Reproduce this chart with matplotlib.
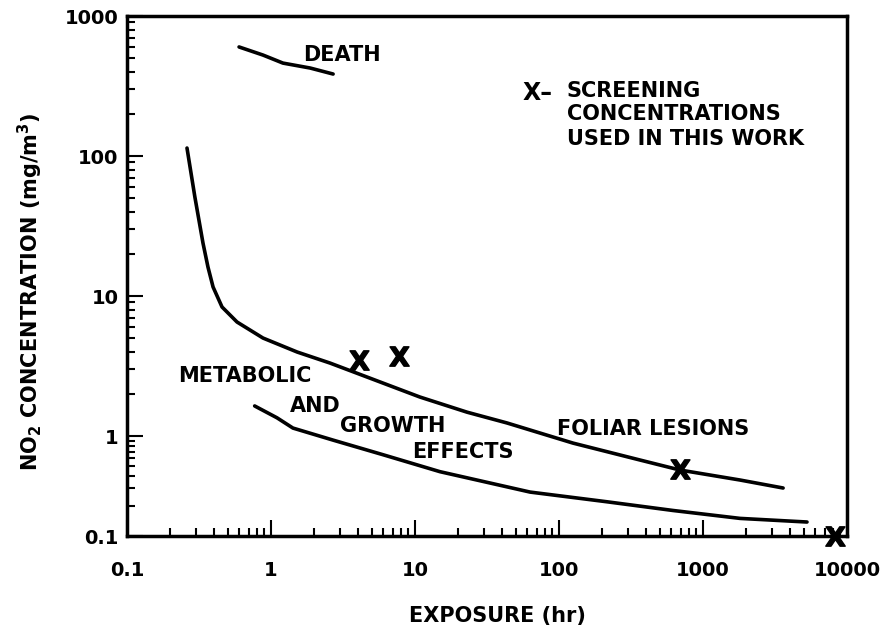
import numpy as np
import matplotlib
matplotlib.use("Agg")
import matplotlib.pyplot as plt
from matplotlib.ticker import FixedLocator, FixedFormatter, NullFormatter, FuncFormatter

# exposure (hr) / NO2 concentration (mg/m3)
death_x = [0.6, 0.88, 1.21, 1.87, 2.7]
death_y = [601, 526, 461, 425, 385]

foliar_x = [0.261, 0.296, 0.337, 0.365, 0.396, 0.457, 0.581, 0.88, 1.52, 2.57, 4.87, 10.8,
            23.0, 43.5, 125, 366, 692, 1808, 3600]
foliar_y = [114, 51, 23.9, 16.1, 11.6, 8.35, 6.52, 5.01, 3.98, 3.32, 2.59, 1.9,
            1.48, 1.24, 0.85, 0.575, 0.457, 0.363, 0.302]

growth_x = [0.77, 1.1, 1.42, 2.7, 6.0, 14.9, 63, 215, 619, 1808, 5275]
growth_y = [1.64, 1.35, 1.14, 0.91, 0.65, 0.44, 0.275, 0.22, 0.18, 0.15, 0.138]

screen_x = [4.1, 7.8, 690, 8300]
screen_y = [3.5, 3.7, 0.47, 0.1]

y_ticks = [0.1, 1, 10, 100, 1000]
y_labels = ["0.1", "1", "10", "100", "1000"]

# the bottom decade of the printed axis is squeezed
LOW_DECADE = 0.714


def fwd(y):
    ly = np.log10(np.clip(y, 1e-12, None))
    return np.where(ly < 0, ly * LOW_DECADE, ly)


def inv(v):
    v = np.asarray(v, dtype=float)
    return np.where(v < 0, 10 ** (v / LOW_DECADE), 10 ** v)


plt.rcParams["font.family"] = ["DejaVu Sans"]
plt.rcParams["font.weight"] = "bold"
plt.rcParams["mathtext.default"] = "bf"

fig = plt.figure(figsize=(8.85, 6.28), dpi=100)
ax = fig.add_axes([127 / 885, 1 - 536 / 628, 720 / 885, 520 / 628])

ax.set_xscale("log")
ax.set_yscale("function", functions=(fwd, inv))
ax.set_xlim(0.1, 10000)
ax.set_ylim(0.1, 1000)

lw = 2.6
ax.plot(death_x, death_y, color="black", lw=lw, solid_capstyle="round")
ax.plot(foliar_x, foliar_y, color="black", lw=lw, solid_capstyle="round")
ax.plot(growth_x, growth_y, color="black", lw=lw, solid_capstyle="round")
ax.plot(screen_x, screen_y, linestyle="none", marker="$X$", markersize=14,
        color="black", clip_on=False, zorder=5)

ax.xaxis.set_major_formatter(FuncFormatter(lambda v, p: f"{v:g}"))
ax.xaxis.set_minor_formatter(NullFormatter())
ax.yaxis.set_major_locator(FixedLocator(y_ticks))
ax.yaxis.set_major_formatter(FixedFormatter(y_labels))
ax.yaxis.set_minor_locator(FixedLocator([k * 10.0 ** n for n in range(-1, 3) for k in range(2, 10)]))
ax.yaxis.set_minor_formatter(NullFormatter())

ax.tick_params(which="both", direction="in", top=False, right=False, width=1.5, labelsize=14)
ax.tick_params(which="major", length=11.5)
ax.tick_params(which="minor", length=6)
ax.tick_params(axis="x", pad=18)
ax.tick_params(axis="y", pad=6)
for s in ax.spines.values():
    s.set_linewidth(2.5)

# labels on the chart
fs = 15
ax.text(0.244, 0.913, "DEATH", transform=ax.transAxes, fontsize=fs, va="baseline")
ax.text(0.549, 0.838, "X\u2013", transform=ax.transAxes, fontsize=17, va="baseline")
ax.text(0.611, 0.844, "SCREENING", transform=ax.transAxes, fontsize=fs, va="baseline")
ax.text(0.611, 0.800, "CONCENTRATIONS", transform=ax.transAxes, fontsize=fs, va="baseline")
ax.text(0.611, 0.752, "USED IN THIS WORK", transform=ax.transAxes, fontsize=fs, va="baseline")
ax.text(0.0708, 0.296, "METABOLIC", transform=ax.transAxes, fontsize=fs, va="baseline")
ax.text(0.226, 0.238, "AND", transform=ax.transAxes, fontsize=fs, va="baseline")
ax.text(0.296, 0.200, "GROWTH", transform=ax.transAxes, fontsize=fs, va="baseline")
ax.text(0.396, 0.150, "EFFECTS", transform=ax.transAxes, fontsize=fs, va="baseline")
ax.text(0.597, 0.194, "FOLIAR LESIONS", transform=ax.transAxes, fontsize=fs, va="baseline")

fig.text(497 / 885, 6 / 628, "EXPOSURE (hr)", fontsize=fs, ha="center", va="baseline")
fig.text(30 / 885, 1 - 292 / 628, r"NO$_2$ CONCENTRATION (mg/m$^3$)", fontsize=fs,
         ha="center", va="center", rotation=90)

fig.savefig("out.png", dpi=100)
